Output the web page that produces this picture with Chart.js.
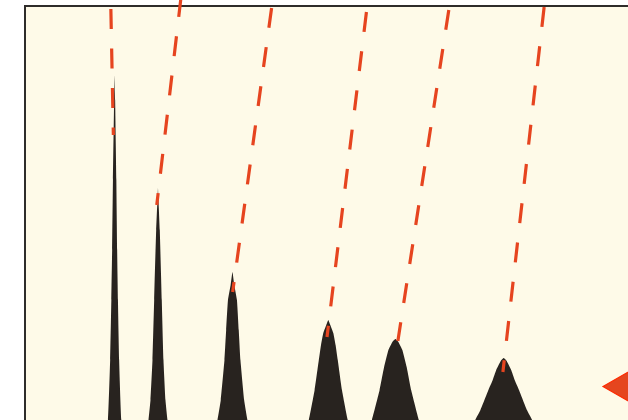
<!DOCTYPE html>
<html>
<head>
<meta charset="utf-8">
<script src="https://cdn.jsdelivr.net/npm/chart.js@4/dist/chart.umd.min.js"></script>
<style>
html,body{margin:0;padding:0;background:#ffffff;overflow:hidden;}
canvas{display:block;}
</style>
</head>
<body>
<canvas id="c" width="628" height="420"></canvas>
<script>
// ---- data (position units along x, intensity units along y) ----
const spectrumX = [
  -10,
  75.8, 82.1, 84.3, 85.5, 86.3, 87.1, 88.3, 88.8, 89.3, 90.5, 91.3, 92.1, 93.3, 95.5, 101.8,
  116.2, 122.7, 124.7, 126.7, 128.4, 130.4, 131.7, 132.2, 132.7, 134.0, 136.0, 137.7, 139.7, 141.7, 148.2,
  182.8, 191.8, 195.1, 198.8, 200.5, 202.3, 205.0, 206.8, 208.6, 211.3, 213.1, 214.8, 218.5, 221.8, 230.8,
  272.8, 283.3, 289.1, 293.3, 295.5, 297.8, 300.8, 302.8, 304.8, 307.8, 310.1, 312.3, 316.5, 322.3, 332.8,
  335, 346.5, 354.2, 358.7, 363, 367, 370, 373, 377, 381.3, 385.8, 393.5, 405,
  433.5, 450, 455.2, 463.2, 467.5, 471, 475.5, 478.5, 481.5, 486, 489.5, 493.8, 501.8, 507, 523.5,
  620
];
const spectrumY = [
  -40,
  -50, 0, 60, 120, 170, 240, 320, 345, 320, 240, 170, 120, 60, 0, -50,
  -50, 0, 20, 60, 120, 190, 220, 232, 220, 190, 120, 60, 20, 0, -50,
  -40, 0, 20, 60, 90, 120, 135, 148, 135, 120, 90, 60, 20, 0, -40,
  -40, 0, 30, 60, 75, 87, 95, 100, 95, 87, 75, 60, 30, 0, -40,
  -40, 0, 30, 53, 70, 78, 81, 78, 70, 53, 30, 0, -40,
  -40, 0, 10, 30, 40, 50, 59, 62, 59, 50, 40, 30, 10, 0, -40,
  -40
];
// guide lines: start (top) and end (near each peak)
const guideTopX    = [85, 155.3, 246, 341, 423.5, 519];
const guideTopY    = [411, 423, 412, 408, 410, 413];
const guideBottomX = [87.5, 131, 207, 301.5, 372.5, 477.7];
const guideBottomY = [285, 215, 128, 83, 79, 48];
// marker
const markerX = [598];
const markerY = [33.5];

const X_MIN = 0, X_MAX = 603, Y_MIN = 0, Y_MAX = 413;

const BG = '#fefae8';
const PEAK = '#28231f';
const RED = '#e6441f';

const spectrum = spectrumX.map((x, i) => ({x, y: spectrumY[i]}));

const datasets = [];
datasets.push({
  type: 'line',
  data: spectrum,
  borderWidth: 0,
  borderColor: PEAK,
  backgroundColor: PEAK,
  pointRadius: 0,
  fill: 'origin',
  tension: 0.12,
  order: 10
});
guideTopX.forEach((tx, i) => {
  datasets.push({
    type: 'line',
    data: [{x: tx, y: guideTopY[i]}, {x: guideBottomX[i], y: guideBottomY[i]}],
    borderColor: RED,
    borderWidth: 3.2,
    borderDash: [20, 19.5],
    borderCapStyle: 'butt',
    pointRadius: 0,
    fill: false,
    clip: false,
    order: 2
  });
});
datasets.push({
  type: 'scatter',
  data: markerX.map((x, i) => ({x, y: markerY[i]})),
  pointStyle: 'triangle',
  rotation: 270,
  pointRadius: 20,
  pointBackgroundColor: '#e5461f',
  pointBorderColor: '#ff2a00',
  pointBorderWidth: 1.2,
  clip: false,
  order: 0
});

const frame = {
  id: 'frame',
  beforeDatasetsDraw(chart) {
    const {ctx, chartArea: a} = chart;
    ctx.save();
    ctx.fillStyle = BG;
    ctx.fillRect(a.left, a.top, a.right - a.left, a.bottom - a.top);
    ctx.fillStyle = '#2e2c2a';
    ctx.fillRect(a.left - 2, a.top - 2, 2, a.bottom - a.top + 2);
    ctx.fillRect(a.left - 2, a.top - 2, a.right - a.left + 2, 2);
    ctx.restore();
  }
};

new Chart(document.getElementById('c'), {
  type: 'line',
  data: {datasets},
  options: {
    responsive: false,
    animation: false,
    devicePixelRatio: 1,
    layout: {autoPadding: false, padding: {left: 26, top: 7, right: 0, bottom: 0}},
    plugins: {legend: {display: false}, tooltip: {enabled: false}},
    scales: {
      x: {type: 'linear', min: X_MIN, max: X_MAX, display: false},
      y: {type: 'linear', min: Y_MIN, max: Y_MAX, display: false}
    }
  },
  plugins: [frame]
});
</script>
</body>
</html>
